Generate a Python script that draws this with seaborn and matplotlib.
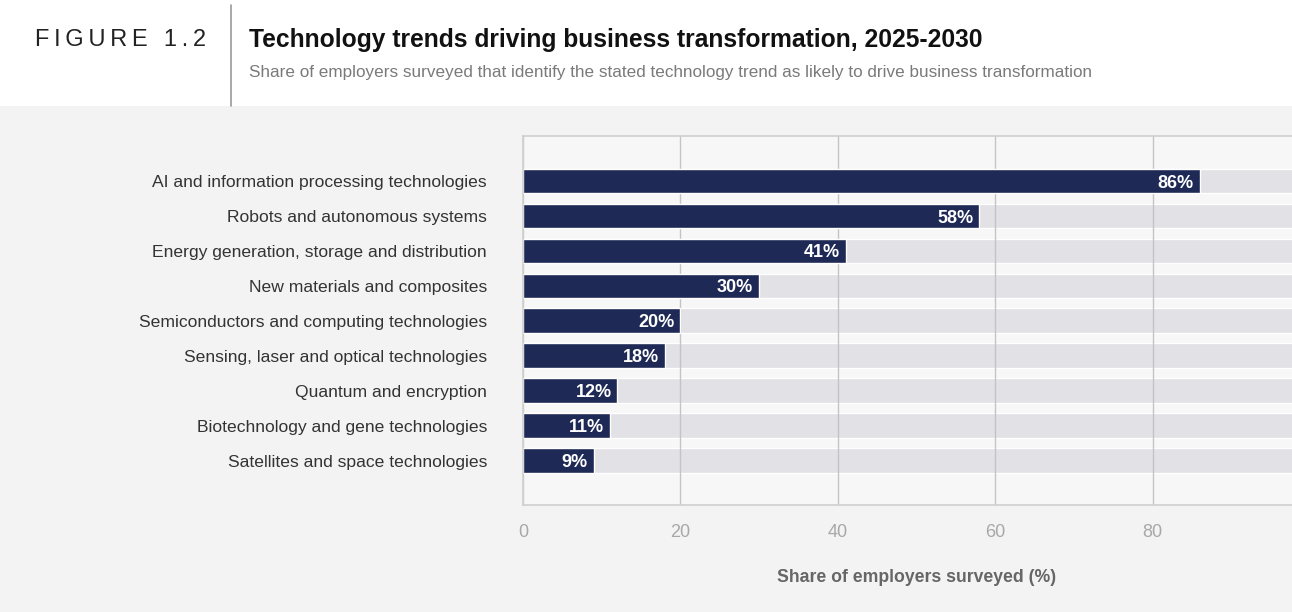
import matplotlib
matplotlib.use("Agg")
import matplotlib.pyplot as plt
import seaborn as sns
import pandas as pd
from matplotlib.patches import Rectangle
from matplotlib.lines import Line2D

categories = [
    "AI and information processing technologies",
    "Robots and autonomous systems",
    "Energy generation, storage and distribution",
    "New materials and composites",
    "Semiconductors and computing technologies",
    "Sensing, laser and optical technologies",
    "Quantum and encryption",
    "Biotechnology and gene technologies",
    "Satellites and space technologies",
]
shares = [86, 58, 41, 30, 20, 18, 12, 11, 9]
track = [100] * len(categories)
xticks = [0, 20, 40, 60, 80]

NAVY = "#1e2a55"
TRACK = "#e1e1e6"
BAND = "#f3f3f3"

sns.set_style("white")
plt.rcParams["font.family"] = ["Liberation Sans", "DejaVu Sans"]

df = pd.DataFrame({"tech": categories, "share": shares, "track": track})

fig = plt.figure(figsize=(12.92, 6.12), dpi=100)
fig.patch.set_facecolor("white")

# grey band under the header
fig.add_artist(Rectangle((0, 0), 1, 1 - 106 / 612, transform=fig.transFigure,
                         facecolor=BAND, edgecolor="none", zorder=-5))
fig.add_artist(Line2D([231 / 1292, 231 / 1292], [1 - 5 / 612, 1 - 106 / 612],
                      transform=fig.transFigure, color="#9a9a9a", lw=1.2))

hs = "\u2009"
fig.text(35 / 1292, 1 - 40 / 612, hs.join("FIGURE") + hs + hs + " " + hs.join("1.2"),
         fontsize=17, color="#222222", va="center", ha="left")
fig.text(249 / 1292, 1 - 40 / 612, "Technology trends driving business transformation, 2025-2030",
         fontsize=17.7, fontweight="bold", color="#111111", va="center", ha="left")
fig.text(249 / 1292, 1 - 72 / 612,
         "Share of employers surveyed that identify the stated technology trend as likely to drive business transformation",
         fontsize=12.35, color="#7a7a7a", va="center", ha="left")

ax = fig.add_axes([523 / 1292, 1 - 505 / 612, 787 / 1292, 369 / 612])
ax.set_facecolor("#f7f7f7")

sns.barplot(data=df, x="track", y="tech", orient="h", color=TRACK, width=0.71,
            saturation=1, ax=ax, zorder=0.3)
sns.barplot(data=df, x="share", y="tech", orient="h", color=NAVY, width=0.71,
            saturation=1, ax=ax, zorder=2)

for i, v in enumerate(shares):
    ax.text(v - 0.75, i, f"{v}%", ha="right", va="center_baseline", color="white",
            fontsize=13, fontweight="bold", zorder=3)

ax.set_xlim(0, 100)
ax.set_ylim(len(categories) - 1 + 1.27, -1.29)
ax.set_xticks(xticks)
ax.set_axisbelow(True)
ax.grid(axis="x", color="#c4c4c4", lw=1)
ax.grid(axis="y", visible=False)
for s in ["top", "left", "bottom", "right"]:
    ax.spines[s].set_color("#cfcfcf")
    ax.spines[s].set_linewidth(1.2)
ax.tick_params(axis="both", length=0)
ax.tick_params(axis="x", colors="#a8a8a8", labelsize=13, pad=14)
ax.tick_params(axis="y", colors="#333333", labelsize=12.6, pad=26)
ax.set_ylabel("")
ax.set_xlabel("Share of employers surveyed (%)", fontsize=12.7, fontweight="bold",
              color="#666666", labelpad=20)

fig.savefig("out.png", dpi=100)
